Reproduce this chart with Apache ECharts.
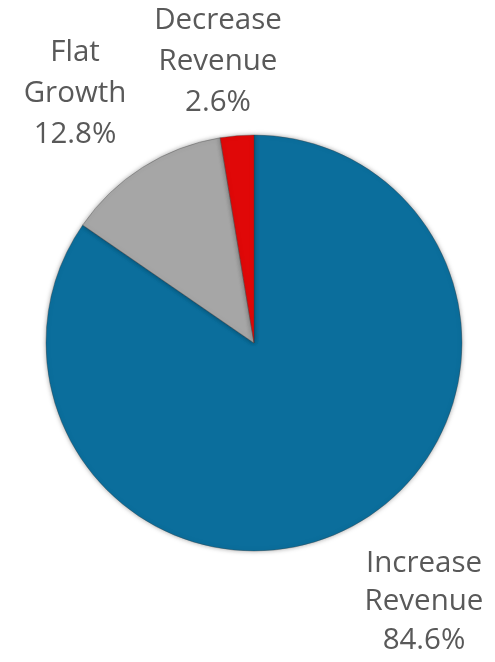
<!DOCTYPE html>
<html>
<head>
<meta charset="utf-8">
<script src="https://cdn.jsdelivr.net/npm/echarts@6/dist/echarts.min.js"></script>
<style>
  html, body { margin: 0; padding: 0; background: #ffffff; }
  #chart { width: 495px; height: 662px; }
</style>
</head>
<body>
<div id="chart"></div>
<script>
// Revenue outlook split, in percent
const categories = ['Increase Revenue', 'Flat Growth', 'Decrease Revenue'];
const shares = [84.6, 12.8, 2.6];
const sliceColors = ['#0B6E9C', '#A6A6A6', '#E00808'];

// Where each label block is centred, and its line spacing
const labelSpots = [
  { x: 424, y: 602, lineHeight: 38.5 },
  { x: 75, y: 94, lineHeight: 41 },
  { x: 218, y: 62, lineHeight: 41 }
];

const chart = echarts.init(document.getElementById('chart'), null, { renderer: 'canvas' });

chart.setOption({
  animation: false,
  series: [{
    type: 'pie',
    center: [254, 343],
    radius: [0, 208],
    startAngle: 90,
    clockwise: true,
    avoidLabelOverlap: false,
    data: categories.map((name, i) => ({
      name: name,
      value: shares[i],
      itemStyle: { color: sliceColors[i] },
      label: { lineHeight: labelSpots[i].lineHeight }
    })),
    itemStyle: {
      borderColor: 'rgba(60,60,60,0.35)',
      borderWidth: 1,
      shadowBlur: 5,
      shadowColor: 'rgba(0,0,0,0.35)'
    },
    label: {
      show: true,
      position: 'outside',
      alignTo: 'none',
      overflow: 'none',
      formatter: p => p.name.replace(' ', '\n') + '\n' + p.value.toFixed(1) + '%',
      color: '#595959',
      fontFamily: 'Open Sans',
      fontSize: 29.5,
      align: 'center'
    },
    labelLine: { show: false },
    labelLayout: params => ({
      x: labelSpots[params.dataIndex].x,
      y: labelSpots[params.dataIndex].y,
      align: 'center',
      verticalAlign: 'middle',
      hideOverlap: false
    }),
    emphasis: { disabled: true }
  }]
});
</script>
</body>
</html>
